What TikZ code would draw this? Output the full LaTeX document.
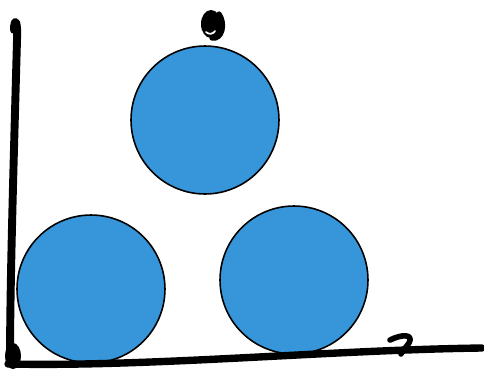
\documentclass[tikz,border=0pt]{standalone}
\definecolor{ballblue}{HTML}{3796DA}
\begin{document}
\begin{tikzpicture}[x=0.02cm,y=-0.02cm]
\useasboundingbox (0,0) rectangle (484,373);
\tikzset{
  ball/.style={circle, draw=black, line width=0.9pt, fill=ballblue, minimum size=2.96cm, inner sep=0pt},
  ink/.style={draw=black, line cap=round, line join=round, line width=4.5pt},
  blob/.style={fill=black}
}
\node[ball] (top) at (205,120) {};
\node[ball] (left) at (91,289) {};
\node[ball] (right) at (294,280) {};
% vertical axis
\coordinate (vtop) at (14,30);
\coordinate (vbot) at (10,362);
\draw[ink] (vtop) .. controls (14,18) and (18,18) .. (17,40) .. controls (14,150) and (10,280) .. (vbot);
% horizontal axis
\coordinate (hleft) at (8,364);
\coordinate (hright) at (482,348);
\draw[ink, line width=4.2pt] (hleft) .. controls (150,367) and (330,350) .. (hright);
% origin blob
\fill[blob] (13,356) ellipse [x radius=8, y radius=13];
% z mark
\draw[ink, line width=3.2pt] (390,340) .. controls (402,334) and (414,334) .. (409,343) .. controls (406,348) and (402,350) .. (401,354);
% g mark
\fill[blob] (211,24) ellipse [x radius=10, y radius=14];
\draw[ink, line width=3pt] (219,14) .. controls (226,24) and (222,40) .. (212,38);
\draw[white, line width=1pt, line cap=round] (206,32) .. controls (209,35) and (213,34) .. (215,31);
\end{tikzpicture}
\end{document}
